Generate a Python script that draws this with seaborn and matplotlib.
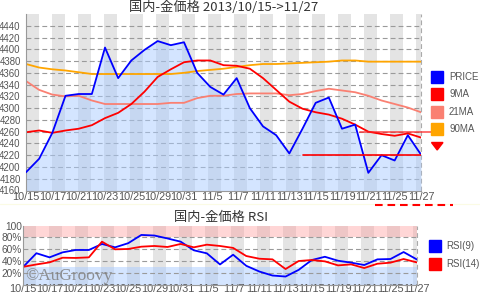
import numpy as np
import pandas as pd
import matplotlib
matplotlib.use('Agg')
import matplotlib.pyplot as plt
import seaborn as sns
from matplotlib.patches import Rectangle, Polygon
from matplotlib.lines import Line2D

# ---------------- data ----------------
dates = ['10/15', '10/16', '10/17', '10/18', '10/21', '10/22', '10/23', '10/24', '10/25',
         '10/28', '10/29', '10/30', '10/31', '11/1', '11/5', '11/6', '11/7', '11/8',
         '11/11', '11/12', '11/13', '11/14', '11/15', '11/18', '11/19', '11/20', '11/21',
         '11/22', '11/25', '11/26', '11/27']
tick_labels = ['10/15', '10/17', '10/21', '10/23', '10/25', '10/29', '10/31', ' 11/5',
               ' 11/7', '11/11', '11/13', '11/15', '11/19', '11/21', '11/25', '11/27']
price = [4191, 4214, 4258, 4321, 4324, 4324, 4403, 4351, 4381, 4399, 4414, 4407, 4412,
         4360, 4336, 4323, 4351, 4300, 4269, 4254, 4223, 4265, 4309, 4318, 4265, 4272,
         4190, 4220, 4211, 4254, 4221]
ma9 = [4259, 4262, 4258, 4262, 4265, 4271, 4283, 4292, 4307, 4328, 4353, 4366, 4378,
       4381, 4381, 4373, 4372, 4367, 4351, 4331, 4311, 4299, 4293, 4289, 4282, 4272,
       4260, 4256, 4253, 4257, 4250]
ma21 = [4346, 4331, 4323, 4320, 4321, 4313, 4307, 4307, 4307, 4307, 4307, 4309, 4309,
        4317, 4321, 4321, 4324, 4325, 4325, 4325, 4322, 4324, 4329, 4333, 4330, 4327,
        4321, 4313, 4307, 4301, 4293]
ma90 = [4375, 4369, 4366, 4364, 4361, 4358, 4358, 4358, 4358, 4358, 4358, 4358, 4360,
        4363, 4365, 4367, 4370, 4373, 4375, 4375, 4376, 4377, 4378, 4379, 4381, 4381,
        4379, 4379, 4379, 4379, 4379]
rsi9 = [30, 53, 46, 54.5, 58.5, 58.5, 68.7, 63, 70, 84, 83, 78, 72.6, 58, 52.8, 34,
        50.5, 31.7, 22, 15.2, 13.5, 24.8, 41.5, 47, 40.3, 37, 33, 42.6, 43.2, 55, 42.6]
rsi14 = [30, 34, 37.5, 45.4, 45, 46, 72.6, 59.6, 60.2, 64.1, 65.3, 63.6, 68.7, 63, 67.5,
         65.3, 62, 48.3, 43.7, 42.6, 26.2, 39.8, 41.5, 39.2, 32.4, 34.1, 27.9, 35.2, 37,
         43.2, 37.5]
price_ticks = list(range(4160, 4441, 20))
rsi_ticks = [20, 40, 60, 80, 100]
rsi_tick_labels = ['20%', '40%', '60%', '80%', '100']
support_level = 4220
resist_level = 4260

# ---------------- style ----------------
sns.set_theme(style='white')
plt.rcParams['font.family'] = ['Noto Sans CJK JP', 'DejaVu Sans']
plt.rcParams['lines.scale_dashes'] = False
TICK_FONT = ['Liberation Sans', 'DejaVu Sans']

W, H = 480, 293
fig = plt.figure(figsize=(W / 100, H / 100), dpi=100)
fig.patch.set_facecolor('white')


def fx(p):
    return p / W


def fy(p):
    return 1 - p / H


idx = np.arange(len(dates))
df = pd.DataFrame({'i': idx, 'PRICE': price, '9MA': ma9, '21MA': ma21, '90MA': ma90,
                   'RSI9': rsi9, 'RSI14': rsi14})
n = len(dates) - 1

ax1 = fig.add_axes([fx(26), fy(190.5), 395 / W, 176.5 / H])
ax2 = fig.add_axes([fx(23.3), fy(284.5), 393.4 / W, 59 / H])

GRID_LS = (0, (3.5, 2.2))


def base(ax, width_px):
    ppu = width_px / n
    k = 0
    while True:
        x0 = k * 26 / ppu
        if x0 >= n:
            break
        ax.axvspan(x0, min(x0 + 13 / ppu, n), color='#e4e4e4', lw=0, zorder=0)
        k += 1
    ax.set_xlim(0, n)
    ax.set_facecolor('white')
    for s in ['top', 'right']:
        ax.spines[s].set_visible(False)
    for s in ['left', 'bottom']:
        ax.spines[s].set_color('#999999')
        ax.spines[s].set_linewidth(0.8)
    ax.axvline(n, color='#aaaaaa', lw=0.8, ls=GRID_LS, zorder=0.6, clip_on=False)


# ---------------- price chart ----------------
base(ax1, 395)
ax1.set_ylim(4160, 4460)
for y in price_ticks[1:]:
    ax1.axhline(y, color='#9a9a9a', lw=0.8, ls=GRID_LS, zorder=0.6)
ax1.fill_between(df['i'], df['PRICE'], 4160, color='#aaccff', alpha=0.5, lw=0, zorder=1)
sns.lineplot(data=df, x='i', y='90MA', color='#ffa500', lw=1.3, ax=ax1, zorder=2)
sns.lineplot(data=df, x='i', y='21MA', color='#fa8072', lw=1.3, ax=ax1, zorder=2)
sns.lineplot(data=df, x='i', y='9MA', color='#ff0000', lw=1.3, ax=ax1, zorder=2)
sns.lineplot(data=df, x='i', y='PRICE', color='#0000ff', lw=1.3, ax=ax1, zorder=3)
ax1.plot([21, n], [support_level, support_level], color='#ff0000', lw=1.2, zorder=3)
ax1.plot([25.4, n + 0.75], [resist_level, resist_level], color='#ff2020', lw=1.4,
         alpha=0.65, zorder=3, clip_on=False)
ax1.set_yticks(price_ticks)
ax1.set_yticklabels([str(t) for t in price_ticks])
ax1.set_xticks(idx[::2])
ax1.set_xticklabels(tick_labels)
ax1.set_xlabel('')
ax1.set_ylabel('')
ax1.tick_params(axis='y', length=3, width=0.8, color='#999999', pad=0.8,
                labelsize=6.9, labelcolor='#555555')
ax1.tick_params(axis='x', length=0, pad=1.2, labelsize=7.8, labelcolor='#555555')
for lab in ax1.get_xticklabels() + ax1.get_yticklabels():
    lab.set_fontfamily(TICK_FONT)

# ---------------- RSI chart ----------------
base(ax2, 393.4)
ax2.set_ylim(0, 100)
ax2.axhspan(80, 100, color='#ff9999', alpha=0.4, lw=0, zorder=0.3)
ax2.axhspan(0, 30, color='#aaccff', alpha=0.5, lw=0, zorder=0.3)
for y in [20, 40, 60, 80]:
    ax2.axhline(y, color='#9a9a9a', lw=0.8, ls=GRID_LS, zorder=0.6)
sns.lineplot(data=df, x='i', y='RSI9', color='#0000ff', lw=1.3, ax=ax2, zorder=2)
sns.lineplot(data=df, x='i', y='RSI14', color='#ff0000', lw=1.3, ax=ax2, zorder=2)
ax2.set_yticks(rsi_ticks)
ax2.set_yticklabels(rsi_tick_labels)
ax2.set_xticks(idx[::2])
ax2.set_xticklabels(tick_labels)
ax2.set_xlabel('')
ax2.set_ylabel('')
ax2.tick_params(axis='y', length=0, pad=1, labelsize=7.3, labelcolor='#555555')
ax2.tick_params(axis='x', length=0, pad=0, labelsize=7.8, labelcolor='#555555')
for lab in ax2.get_xticklabels() + ax2.get_yticklabels():
    lab.set_fontfamily(TICK_FONT)

ax2.text(fx(25), fy(276.5), '©AuGroovy', transform=fig.transFigure,
         fontsize=12.5, family=['Liberation Serif', 'DejaVu Serif'],
         color='#808080', alpha=0.85, va='center', ha='left', zorder=5)

# ---------------- titles ----------------
fig.text(fx(223.5), fy(7.5), '国内-金価格 2013/10/15->11/27', ha='center', va='center',
         fontsize=9.5, color='#333333')
fig.text(fx(220.5), fy(217.5), '国内-金価格 RSI', ha='center', va='center',
         fontsize=9.5, color='#333333')

# separator and red dashed annotation
fig.add_artist(Line2D([0, 1], [fy(203.5)] * 2, color='#fbfbe4', lw=0.8))
fig.add_artist(Line2D([fx(375), fx(453)], [fy(205)] * 2, color='#ff0000', lw=1.5,
                      ls=(0, (5.5, 3.5))))

# ---------------- legends ----------------
legend_top = [('PRICE', '#0000ff', 77), ('9MA', '#ff0000', 94.3),
              ('21MA', '#fa8072', 111.7), ('90MA', '#ffa500', 129.3)]
for name, col, cy in legend_top:
    fig.add_artist(Rectangle((fx(431), fy(cy + 6)), 12 / W, 12 / H, color=col,
                             transform=fig.transFigure))
    fig.text(fx(449), fy(cy), name, ha='left', va='center', fontsize=7,
             color='#555555', family=TICK_FONT)
fig.add_artist(Polygon([(fx(431.5), fy(142.5)), (fx(443), fy(142.5)), (fx(437.2), fy(150))],
                       closed=True, color='#ff0000', transform=fig.transFigure))

legend_rsi = [('RSI(9)', '#0000ff', 246), ('RSI(14)', '#ff0000', 263.7)]
for name, col, cy in legend_rsi:
    fig.add_artist(Rectangle((fx(428.5), fy(cy + 6)), 12 / W, 12 / H, color=col,
                             transform=fig.transFigure))
    fig.text(fx(446.5), fy(cy), name, ha='left', va='center', fontsize=7,
             color='#555555', family=TICK_FONT)

fig.savefig('out.png', dpi=100)
